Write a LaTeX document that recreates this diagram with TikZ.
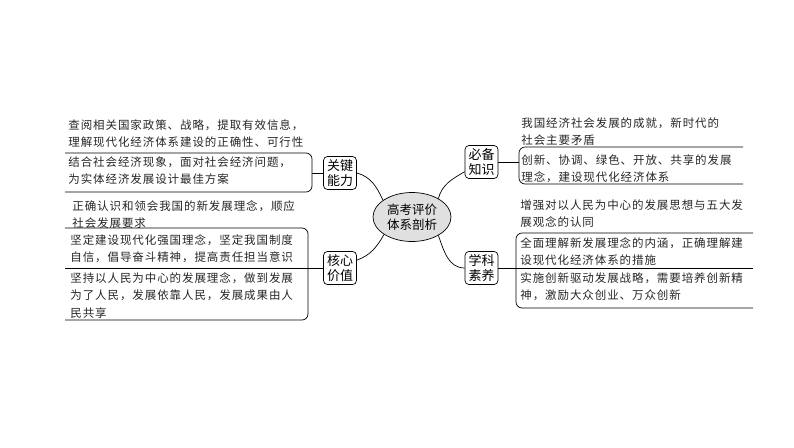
\documentclass[tikz,border=0pt]{standalone}
\usepackage{fontspec}
\setmainfont{Noto Sans CJK SC}
\newfontfamily\itemfont[LetterSpace=8]{Noto Sans CJK SC}
\usetikzlibrary{shapes.geometric}

\begin{document}
\begin{tikzpicture}[x=1pt,y=1pt,line width=0.7pt,
    item/.style={anchor=north west, inner sep=0pt, align=left, text=black!85,
      font=\itemfont\fontsize{11.5}{17.5}\selectfont},
    branch/.style={draw, rounded corners=4pt, inner xsep=3.5pt, inner ysep=3pt, align=center,
      font=\fontsize{13}{15}\selectfont},
    hub/.style={ellipse, draw, fill=black!12, minimum width=78pt, minimum height=49pt,
      inner sep=0pt, align=center, font=\fontsize{12.5}{15}\selectfont}]
    \useasboundingbox (0,0) rectangle (794,-447);
                        % Nodes
                        \node[hub] (c) at (412,-217) {高考评价\\体系剖析};
                        \node[branch] (gj) at (340,-173) {关键\\能力};
                        \node[branch] (hx) at (340,-268) {核心\\价值};
                        \node[branch] (bb) at (481.5,-162) {必备\\知识};
                        \node[branch] (xk) at (481.5,-268) {学科\\素养};

                        \node[item] (a1) at (68,-119) {查阅相关国家政策、战略，提取有效信息，\\理解现代化经济体系建设的正确性、可行性};
                        \node[item] (a2) at (68,-156) {结合社会经济现象，面对社会经济问题，\\为实体经济发展设计最佳方案};
                        \node[item] (b1) at (72,-200) {正确认识和领会我国的新发展理念，顺应\\社会发展要求};
                        \node[item] (b2) at (70,-234) {坚定建设现代化强国理念，坚定我国制度\\自信，倡导奋斗精神，提高责任担当意识};
                        \node[item] (b3) at (70,-272) {坚持以人民为中心的发展理念，做到发展\\为了人民，发展依靠人民，发展成果由人\\民共享};
                        \node[item] (c1) at (521,-117) {我国经济社会发展的成就，新时代的\\社会主要矛盾};
                        \node[item] (c2) at (521,-154) {创新、协调、绿色、开放、共享的发展\\理念，建设现代化经济体系};
                        \node[item] (d1) at (520,-199) {增强对以人民为中心的发展思想与五大发\\展观念的认同};
                        \node[item] (d2) at (520,-237) {全面理解新发展理念的内涵，正确理解建\\设现代化经济体系的措施};
                        \node[item] (d3) at (520,-272) {实施创新驱动发展战略，需要培养创新精\\神，激励大众创业、万众创新};

                        % Brackets
                        \draw[rounded corners=6pt] (65,-153) -- (312,-153) -- (312,-192) -- (65,-192);
                        \draw[rounded corners=6pt] (65,-228) -- (308,-228) -- (308,-320) -- (65,-320);
                        \draw (65,-268) -- (308,-268);
                        \draw[rounded corners=6pt] (743,-147) -- (519,-147) -- (519,-184) -- (743,-184);
                        \draw[rounded corners=6pt] (753,-233) -- (516,-233) -- (516,-308) -- (753,-308);
                        \draw (516,-268) -- (753,-268);
                        \coordinate (gjb) at (312,-173);
                        \coordinate (hxb) at (308,-268);
                        \coordinate (bbb) at (519,-162);
                        \coordinate (xkb) at (516,-268);

                        % Edges
                        \draw (gj.east) to[out=-15,in=115] (c.150);
                        \draw (hx.25) to[out=20,in=240] (c.212);
                        \draw (c.35) to[out=75,in=210] (bb.210);
                        \draw (c.325) to[out=-70,in=180] (xk.west);

                        \draw (gj.west) -- (gjb);
                        \draw (hx.west) -- (hxb);
                        \draw (bb.east) -- (bbb);
                        \draw (xk.east) -- (xkb);
                    \end{tikzpicture}
\end{document}
